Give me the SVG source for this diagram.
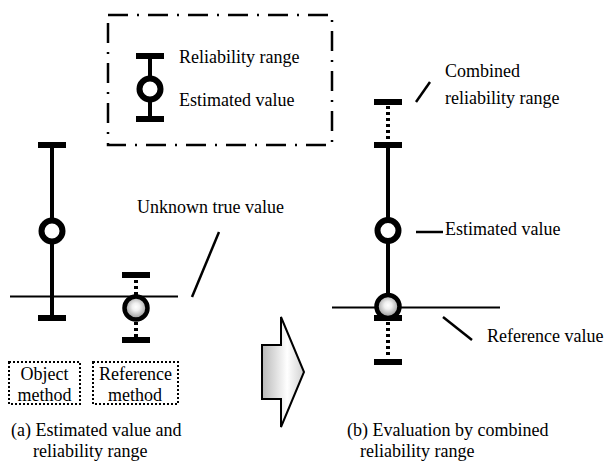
<svg xmlns="http://www.w3.org/2000/svg" width="609" height="461" viewBox="0 0 609 461">
<style>
text{font-family:"Liberation Serif","Times New Roman",serif;font-size:18px;fill:#000}
.bar{fill:#000}
.vl{stroke:#000;stroke-width:4;fill:none}
.dot{stroke:#000;stroke-width:4;stroke-dasharray:3 3;fill:none}
.est{fill:#fff;stroke:#000;stroke-width:6}
.ref{fill:url(#rg);stroke:#000;stroke-width:4.5}
.thin{stroke:#000;stroke-width:2;fill:none}
.lead{stroke:#000;stroke-width:2.5;fill:none}
.box{fill:none;stroke:#000;stroke-width:2;stroke-dasharray:2 2}
</style>
<defs>
<radialGradient id="rg" cx="0.5" cy="0.45" r="0.55">
<stop offset="0" stop-color="#ffffff"/>
<stop offset="0.3" stop-color="#f0f0f0"/>
<stop offset="1" stop-color="#8a8a8a"/>
</radialGradient>
<linearGradient id="ag" x1="0" y1="0" x2="1" y2="0">
<stop offset="0" stop-color="#b8b8b8"/>
<stop offset="0.6" stop-color="#ffffff"/>
<stop offset="1" stop-color="#d0d0d0"/>
</linearGradient>
</defs>
<rect width="609" height="461" fill="#fff"/>

<g id="legend">
<rect x="108" y="15" width="224" height="130" fill="none" stroke="#000" stroke-width="2.5" stroke-dasharray="20 9 2 9"/>
<line class="vl" x1="150" y1="56" x2="150" y2="119"/>
<rect class="bar" x="136" y="53" width="28" height="6"/>
<rect class="bar" x="136" y="116" width="28" height="6"/>
<circle class="est" cx="150" cy="89" r="10.5"/>
<text x="179" y="63">Reliability range</text>
<text x="179" y="106">Estimated value</text>
</g>

<g id="object-bar">
<line class="vl" x1="52" y1="145" x2="52" y2="318"/>
<rect class="bar" x="38" y="142" width="28" height="6"/>
<rect class="bar" x="38" y="315" width="28" height="6"/>
<circle class="est" cx="52" cy="231" r="10.5"/>
</g>

<g id="true-line">
<line class="thin" x1="10" y1="296.5" x2="178" y2="296.5"/>
</g>

<g id="reference-bar">
<line class="dot" x1="136" y1="280" x2="136" y2="296"/>
<line class="dot" x1="136" y1="322" x2="136" y2="338"/>
<rect class="bar" x="122" y="272" width="28" height="6"/>
<rect class="bar" x="122" y="337" width="28" height="6"/>
<circle class="ref" cx="136" cy="308" r="11.5"/>
</g>

<g id="unknown-label">
<text x="137" y="213">Unknown true value</text>
</g>

<g id="object-box">
<rect class="box" x="9" y="362" width="71" height="42"/>
<text x="44.5" y="380" text-anchor="middle">Object</text>
<text x="44.5" y="401" text-anchor="middle">method</text>
</g>
<g id="reference-box">
<rect class="box" x="93" y="362" width="85" height="42"/>
<text x="135.5" y="380" text-anchor="middle">Reference</text>
<text x="135" y="401" text-anchor="middle">method</text>
</g>

<g id="caption-a">
<text x="11" y="436">(a) Estimated value and</text>
<text x="33" y="457">reliability range</text>
</g>

<g id="arrow">
<polygon points="262,345 281,345 281,317 304,372 281,427 281,399 262,399" fill="url(#ag)" stroke="#000" stroke-width="2" stroke-linejoin="miter"/>
</g>

<g id="combined-bar">
<line class="dot" x1="388" y1="106" x2="388" y2="142"/>
<line class="vl" x1="388" y1="145" x2="388" y2="306"/>
<line class="dot" x1="388" y1="322" x2="388" y2="358"/>
<rect class="bar" x="374" y="99" width="28" height="6"/>
<rect class="bar" x="374" y="142" width="28" height="6"/>
<rect class="bar" x="374" y="315" width="28" height="6"/>
<rect class="bar" x="374" y="359" width="28" height="6"/>
<circle class="est" cx="388" cy="230.5" r="10.5"/>
</g>

<g id="reference-line">
<line class="thin" x1="332" y1="307.5" x2="500" y2="307.5"/>
</g>

<g id="reference-point">
<circle class="ref" cx="388" cy="306.5" r="11.5"/>
</g>

<g id="labels-b">
<text x="445" y="77">Combined</text>
<text x="445" y="104">reliability range</text>
<text x="445" y="235">Estimated value</text>
<text x="487" y="342">Reference value</text>
</g>

<g id="caption-b">
<text x="347" y="436">(b) Evaluation by combined</text>
<text x="360" y="457">reliability range</text>
</g>

<g id="connectors">
<line class="lead" x1="192" y1="297" x2="219" y2="232"/>
<line class="lead" x1="416" y1="102" x2="430" y2="82"/>
<line class="lead" x1="416" y1="232" x2="443" y2="232"/>
<line class="lead" x1="443" y1="317" x2="472" y2="340"/>
</g>
</svg>
